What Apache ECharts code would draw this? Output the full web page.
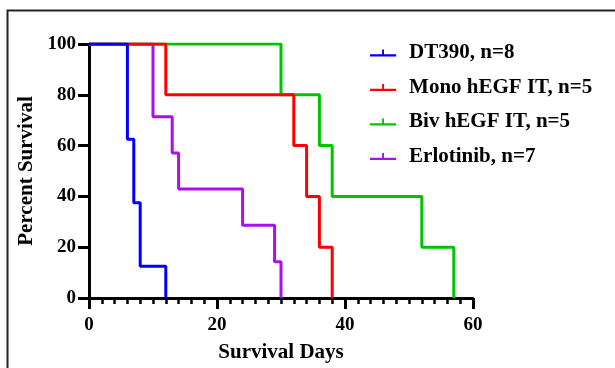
<!DOCTYPE html>
<html>
<head>
<meta charset="utf-8">
<script src="https://cdn.jsdelivr.net/npm/echarts@6/dist/echarts.min.js"></script>
<style>
  html, body { margin: 0; padding: 0; background: #fff; }
  #chart { width: 615px; height: 368px; }
</style>
</head>
<body>
<div id="chart"></div>
<script>
// Kaplan-Meier steps: [day, percent surviving]
const dt390 = [[0, 100], [6, 62.5], [7, 37.5], [8, 12.5], [12, 0]];
const mono = [[0, 100], [12, 80], [32, 60], [34, 40], [36, 20], [38, 0]];
const biv = [[0, 100], [30, 80], [36, 60], [38, 40], [52, 20], [57, 0]];
const erlotinib = [[0, 100], [10, 71.4], [13, 57.1], [14, 42.9], [24, 28.6], [29, 14.3], [30, 0]];

const names = ["DT390, n=8", "Mono hEGF IT, n=5", "Biv hEGF IT, n=5", "Erlotinib, n=7"];
const colors = ["#0000ff", "#ff0000", "#00c400", "#a810f0"];
const seriesData = [dt390, mono, biv, erlotinib];
const zOrder = [6, 5, 4, 3];

const font = "Liberation Serif";
const chart = echarts.init(document.getElementById("chart"));

const option = {
  animation: false,
  graphic: [
    {
      type: "rect",
      shape: { x: 7.5, y: 10.5, width: 640, height: 400 },
      style: { fill: "none", stroke: "#222", lineWidth: 2 },
    },
  ],
  grid: { left: 89, right: 142, top: 44, bottom: 70 },
  legend: {
    orient: "vertical",
    left: 365,
    top: 37,
    itemWidth: 28,
    itemHeight: 7,
    itemGap: 12.5,
    icon: "path://M0,5 L13,5 L13,0 L15,0 L15,5 L28,5 L28,7.5 L0,7.5 Z",
    data: names,
    textStyle: {
      fontFamily: font,
      fontWeight: "bold",
      fontSize: 21,
      color: "#000",
      lineHeight: 22,
      padding: [0, 0, 0, 7],
    },
  },
  xAxis: {
    type: "value",
    min: 0,
    max: 60,
    interval: 20,
    name: "Survival Days",
    nameLocation: "middle",
    nameGap: 44,
    nameTextStyle: { fontFamily: font, fontWeight: "bold", fontSize: 21, color: "#000" },
    axisLine: { show: true, lineStyle: { color: "#000", width: 3 } },
    axisTick: { show: true, inside: false, length: 11, lineStyle: { color: "#000", width: 3 } },
    minorTick: { show: true, splitNumber: 10, length: 6, lineStyle: { color: "#000", width: 2.5 } },
    axisLabel: { fontFamily: font, fontWeight: "bold", fontSize: 19, color: "#000", margin: 18 },
    splitLine: { show: false },
  },
  yAxis: {
    type: "value",
    min: 0,
    max: 100,
    interval: 20,
    name: "Percent Survival",
    nameLocation: "middle",
    nameGap: 52,
    nameTextStyle: { fontFamily: font, fontWeight: "bold", fontSize: 21, color: "#000" },
    axisLine: { show: true, lineStyle: { color: "#000", width: 3 } },
    axisTick: { show: true, inside: false, length: 11, lineStyle: { color: "#000", width: 3 } },
    axisLabel: { fontFamily: font, fontWeight: "bold", fontSize: 19, color: "#000", margin: 13 },
    splitLine: { show: false },
  },
  series: names.map((name, i) => ({
    name: name,
    type: "line",
    step: "end",
    data: seriesData[i],
    symbol: "none",
    showSymbol: false,
    z: zOrder[i],
    color: colors[i],
    lineStyle: { color: colors[i], width: 3 },
  })),
};

chart.setOption(option);
</script>
</body>
</html>
